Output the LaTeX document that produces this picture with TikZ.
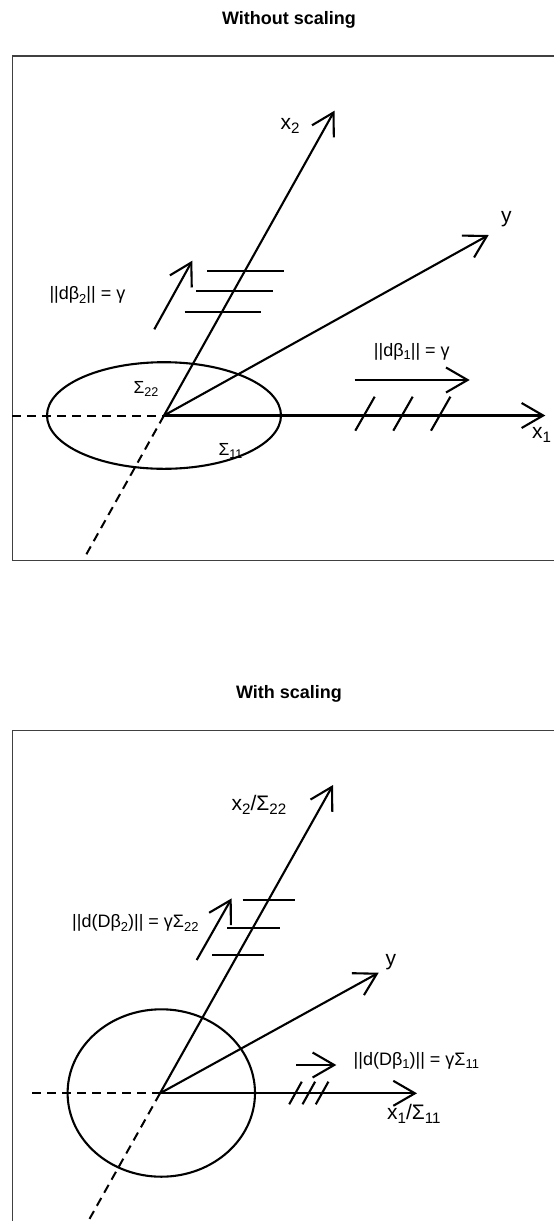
\documentclass[tikz,border=0pt]{standalone}
\usepackage{fontspec}
\setmainfont{Liberation Sans}
\usepackage{graphicx}
\usepackage{tikz}
\usetikzlibrary{arrows.meta,calc}
\tikzset{>={Straight Barb[length=21.6pt,width=25pt]}}
\tikzset{
  ax/.style={line width=2.1pt},
  half/.style={line width=2pt,dash pattern=on 9pt off 6pt},
  frame/.style={line width=1.4pt,draw=black!75},
  lab/.style={inner sep=0pt,anchor=base west,font=\fontsize{21}{24}\selectfont},
  note/.style={inner sep=0pt,anchor=base west,font=\fontsize{18}{21}\selectfont},
  sig/.style={inner sep=0pt,anchor=base west,font=\fontsize{17.5}{20}\selectfont},
  ttl/.style={inner sep=0pt,anchor=base,font=\fontsize{18}{21}\selectfont\bfseries}
}
\newcommand{\lo}[1]{\raisebox{-0.22em}{\scalebox{0.72}{#1}}}
\newcommand{\rung}[3]{\draw[ax] (#1,#3) -- (#2,#3);}
\newcommand{\notch}[4]{\draw[ax] ($(#1,#2)-(#3,#4)$) -- ($(#1,#2)+(#3,#4)$);}

\begin{document}
\begin{tikzpicture}[x=1pt,y=-1pt]
\useasboundingbox (0,0) rectangle (554,1221);
% without scaling
\node[ttl] (t1) at (289,24) {Without scaling};
\draw[frame] (12.3,56) rectangle (566,560.5);
\coordinate (O) at (164,415.5);
\coordinate (e1) at (545.3,415.5);
\coordinate (e1m) at (12.3,415.5);
\coordinate (e2) at (334.5,110.7);
\coordinate (e2m) at ($(O)!-0.4577!(e2)$);
\coordinate (ey) at (488.7,235);
\draw[ax] (O) ellipse [x radius=117,y radius=53.3];
\draw[half] (e1m) -- (O);
\draw[half] (O) -- (e2m);
\draw[ax,->] (O) -- (e1);
\draw[ax,->] (O) -- (e2);
\draw[ax,->] (O) -- (ey);
\node[lab] (l1) at (532,438.3) {x\lo{1}};
\node[lab] (l2) at (280.3,129.3) {x\lo{2}};
\node[lab] (ly) at (501,222.5) {y};
\node[sig] (s22) at (133.3,393) {Σ\lo{22}};
\node[sig] (s11) at (218.3,455) {Σ\lo{11}};
\coordinate (a1s) at (354.7,380);
\coordinate (a1e) at (469.7,380);
\draw[ax,->] (a1s) -- (a1e);
\node[note] (n1) at (373.7,356) {||dβ\lo{1}|| = γ};
\notch{365}{413.7}{9.7}{-17} \notch{403}{413.7}{9.7}{-17} \notch{440.7}{413.7}{9.7}{-17}
\coordinate (a2s) at (154.3,329.3);
\coordinate (a2e) at (192.3,260.7);
\draw[ax,->] (a2s) -- (a2e);
\node[note] (n2) at (49.3,299.5) {||dβ\lo{2}|| = γ};
\rung{207.4}{283.7}{271} \rung{196}{272.8}{291.3} \rung{184.5}{261.3}{311.7}
% with scaling
\node[ttl] (t2) at (289,698.3) {With scaling};
\draw[frame] (12.3,730.7) rectangle (566,1236);
\coordinate (P) at (160,1093.3);
\coordinate (f1) at (417,1093.3);
\coordinate (f1m) at (32.3,1093.3);
\coordinate (f2) at (333,785);
\coordinate (f2m) at ($(P)!-0.427!(f2)$);
\coordinate (fy) at (378.7,972.7);
\draw[ax] (161.3,1093) ellipse [x radius=93.7,y radius=83.7];
\draw[half] (f1m) -- (P);
\draw[half] (P) -- (f2m);
\draw[ax,->] (P) -- (f1);
\draw[ax,->] (P) -- (f2);
\draw[ax,->] (P) -- (fy);
\node[lab] (m1) at (387,1119) {x\lo{1}/Σ\lo{11}};
\node[lab] (m2) at (231.5,810) {x\lo{2}/Σ\lo{22}};
\node[lab] (my) at (385.3,965) {y};
\coordinate (c1s) at (296.3,1065);
\coordinate (c1e) at (336.3,1065);
\draw[ax,->] (c1s) -- (c1e);
\node[note] (k1) at (353.5,1065) {||d(Dβ\lo{1})|| = γΣ\lo{11}};
\notch{295.5}{1093}{6.3}{-11.3} \notch{308.8}{1093}{6.3}{-11.3} \notch{322.1}{1093}{6.3}{-11.3}
\coordinate (c2s) at (196.7,960);
\coordinate (c2e) at (231.7,898.3);
\draw[ax,->] (c2s) -- (c2e);
\node[note] (k2) at (72,927.5) {||d(Dβ\lo{2})|| = γΣ\lo{22}};
\rung{242.5}{294.5}{900} \rung{227}{279.5}{927.7} \rung{212}{264.2}{955}
\end{tikzpicture}
\end{document}
